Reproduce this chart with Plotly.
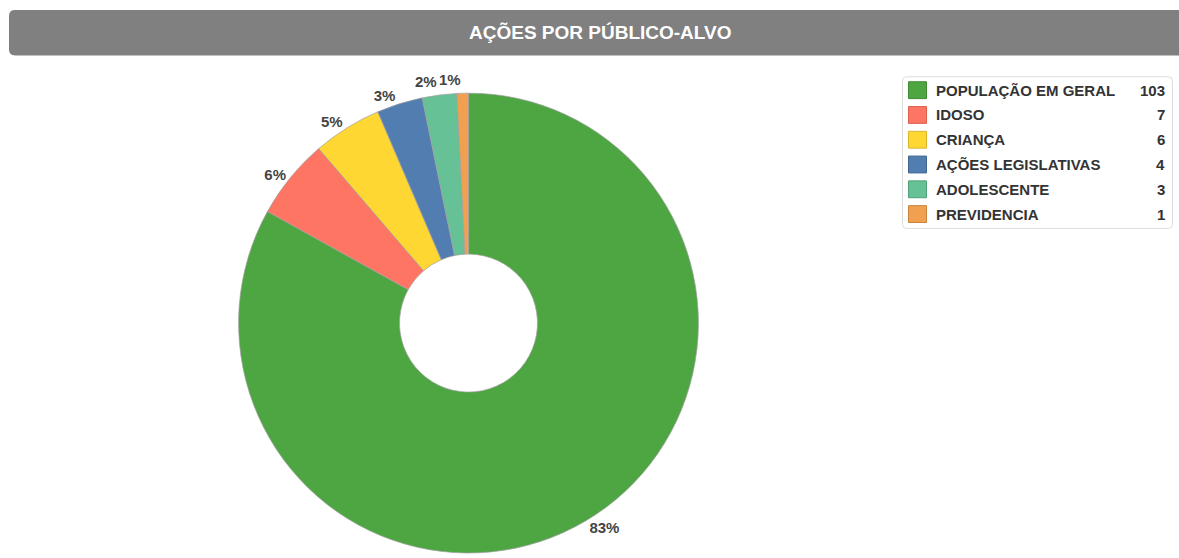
import math
import plotly.graph_objects as go

# ---- data ----
categories = ["POPULAÇÃO EM GERAL", "IDOSO", "CRIANÇA", "AÇÕES LEGISLATIVAS", "ADOLESCENTE", "PREVIDENCIA"]
values = [103, 7, 6, 4, 3, 1]
colors = ["#4DA641", "#FF7563", "#FFD733", "#527DB0", "#66C296", "#F0A04E"]
swatch_borders = ["#3E8A33", "#D9604F", "#D9B52A", "#41648D", "#52A078", "#C8843F"]
title = "AÇÕES POR PÚBLICO-ALVO"

W, H = 1179, 558
FONT = "Arial, 'Liberation Sans', sans-serif"


def px_x(x):
    return x / W


def px_y(y):
    return 1 - y / H


# pie geometry (pixels)
cx, top, r = 468.5, 94.0, 232.0
cy = top + r
total = sum(values)
# the two smallest slices sit next to each other at the top: label them by hand
crowded = [4, 5]
textpos = ["none" if i in crowded else "outside" for i in range(len(values))]

fig = go.Figure()
fig.add_trace(go.Pie(
    labels=categories,
    values=values,
    marker=dict(colors=colors, line=dict(color="rgba(160,160,160,0.7)", width=1)),
    hole=0.30,
    sort=False,
    direction="clockwise",
    rotation=0,
    textposition=textpos,
    texttemplate="%{percent:.0%}",
    textfont=dict(family=FONT, size=15, color="#444444", weight="bold"),
    showlegend=False,
    domain=dict(x=[px_x(cx - r), px_x(cx + r)], y=[px_y(top + 2 * r), px_y(top)]),
))

shapes = []
annotations = []

# percentage labels for the crowded slices, placed from the slice mid-angle
cum = 0
for i, v in enumerate(values):
    if i in crowded:
        mid = (cum + v / 2) / total * 2 * math.pi
        rr = r + 3
        ax = cx + rr * math.sin(mid)
        ay = cy - rr * math.cos(mid)
        annotations.append(dict(text=f"<b>{round(100 * v / total)}%</b>", xref="paper", yref="paper",
                                x=px_x(ax), y=px_y(ay), xanchor="right", yanchor="bottom",
                                showarrow=False, font=dict(family=FONT, size=15, color="#444444")))
    cum += v

# title bar (rounded rectangle, extends past the right edge)
x0, x1, y0, y1, rad = 9, 1195, 10, 56, 6
path = (f"M {px_x(x0 + rad)},{px_y(y0)} L {px_x(x1 - rad)},{px_y(y0)} "
        f"Q {px_x(x1)},{px_y(y0)} {px_x(x1)},{px_y(y0 + rad)} "
        f"L {px_x(x1)},{px_y(y1 - rad)} Q {px_x(x1)},{px_y(y1)} {px_x(x1 - rad)},{px_y(y1)} "
        f"L {px_x(x0 + rad)},{px_y(y1)} Q {px_x(x0)},{px_y(y1)} {px_x(x0)},{px_y(y1 - rad)} "
        f"L {px_x(x0)},{px_y(y0 + rad)} Q {px_x(x0)},{px_y(y0)} {px_x(x0 + rad)},{px_y(y0)} Z")
shapes.append(dict(type="path", xref="paper", yref="paper", path=path,
                   fillcolor="#808080", line=dict(width=0), layer="below"))
annotations.append(dict(text=f"<b>{title}</b>", xref="paper", yref="paper",
                        x=px_x(601), y=px_y(33), xanchor="center", yanchor="middle",
                        showarrow=False, font=dict(family=FONT, size=19, color="white")))

# legend box
lx0, lx1, ly0, ly1, lr = 902.5, 1172.5, 77.5, 230.5, 4
lpath = (f"M {px_x(lx0 + lr)},{px_y(ly0)} L {px_x(lx1 - lr)},{px_y(ly0)} "
         f"Q {px_x(lx1)},{px_y(ly0)} {px_x(lx1)},{px_y(ly0 + lr)} "
         f"L {px_x(lx1)},{px_y(ly1 - lr)} Q {px_x(lx1)},{px_y(ly1)} {px_x(lx1 - lr)},{px_y(ly1)} "
         f"L {px_x(lx0 + lr)},{px_y(ly1)} Q {px_x(lx0)},{px_y(ly1)} {px_x(lx0)},{px_y(ly1 - lr)} "
         f"L {px_x(lx0)},{px_y(ly0 + lr)} Q {px_x(lx0)},{px_y(ly0)} {px_x(lx0 + lr)},{px_y(ly0)} Z")
shapes.append(dict(type="path", xref="paper", yref="paper", path=lpath,
                   fillcolor="white", line=dict(color="#DDDDDD", width=1)))

row0, step = 91, 25
for i, (lab, val, col, bcol) in enumerate(zip(categories, values, colors, swatch_borders)):
    yc = row0 + i * step
    shapes.append(dict(type="rect", xref="paper", yref="paper",
                       x0=px_x(908.5), x1=px_x(926.5), y0=px_y(yc - 8.5), y1=px_y(yc + 8.5),
                       fillcolor=col, line=dict(color=bcol, width=1)))
    annotations.append(dict(text=f"<b>{lab}</b>", xref="paper", yref="paper",
                            x=px_x(934), y=px_y(yc), xanchor="left", yanchor="middle",
                            showarrow=False, font=dict(family=FONT, size=15, color="#333333")))
    annotations.append(dict(text=f"<b>{val}</b>", xref="paper", yref="paper",
                            x=px_x(1167), y=px_y(yc), xanchor="right", yanchor="middle",
                            showarrow=False, font=dict(family=FONT, size=15, color="#333333")))

fig.update_layout(
    width=W, height=H,
    margin=dict(l=0, r=0, t=0, b=0),
    paper_bgcolor="white",
    plot_bgcolor="white",
    shapes=shapes,
    annotations=annotations,
    font=dict(family=FONT),
)

fig.write_html("out.html", config={"displayModeBar": False},
               post_script="document.body.style.margin='0';document.body.style.overflow='hidden';")
